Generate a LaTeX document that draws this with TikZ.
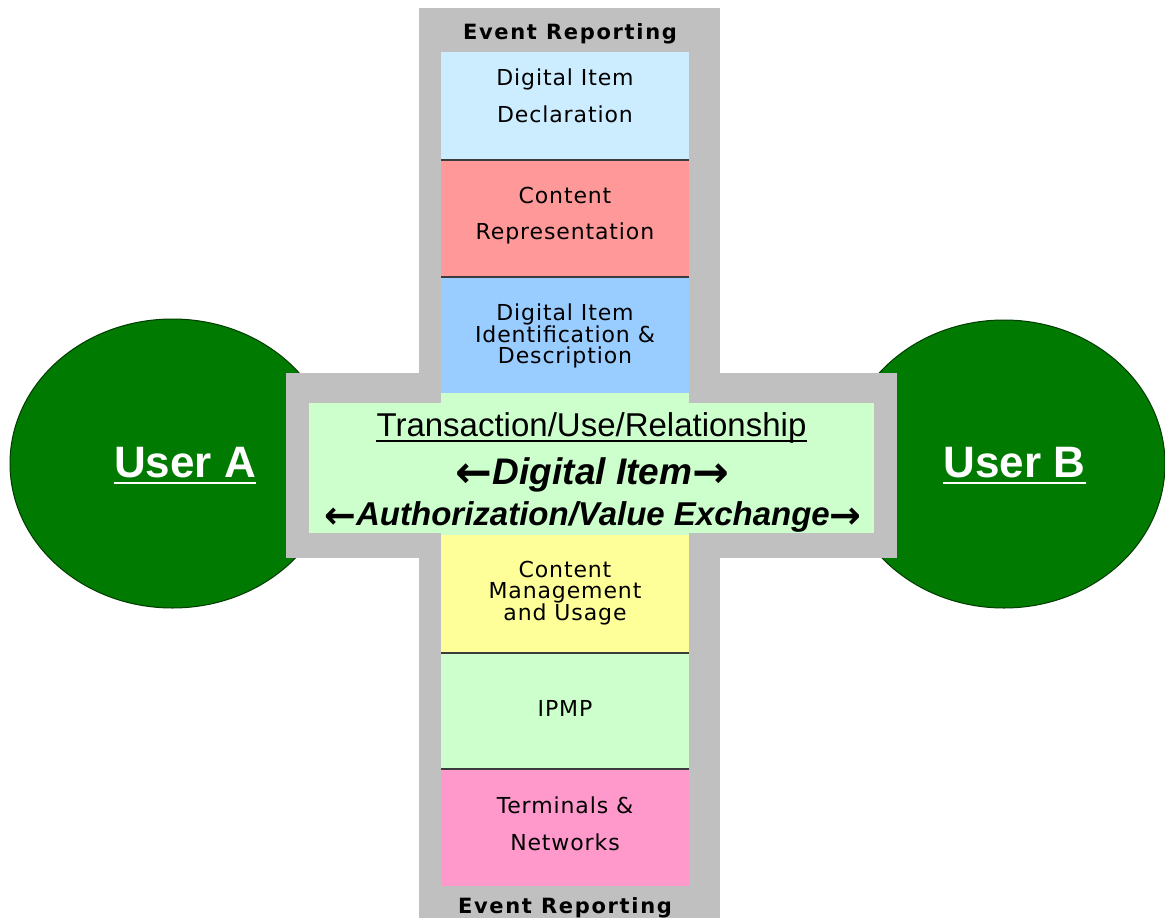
\documentclass[tikz,border=0pt]{standalone}
\usepackage{fontspec}
\usetikzlibrary{shapes.geometric}
\setmainfont{Liberation Sans}
\newfontfamily\boxfont[LetterSpace=4]{DejaVu Sans}
\newfontfamily\evfont[LetterSpace=8]{DejaVu Sans}
\newfontfamily\arfont{Liberation Sans}
\newfontfamily\arrowfont{DejaVu Sans}
\newcommand{\larr}[1]{\raisebox{-3pt}{\arrowfont\bfseries\fontsize{#1}{#1}\selectfont ←}}
\newcommand{\rarr}[1]{\raisebox{-3pt}{\arrowfont\bfseries\fontsize{#1}{#1}\selectfont →}}
\definecolor{crossgray}{RGB}{192,192,192}
\definecolor{didblue}{RGB}{204,236,255}
\definecolor{crred}{RGB}{255,153,153}
\definecolor{diiblue}{RGB}{153,204,255}
\definecolor{centergreen}{RGB}{204,255,204}
\definecolor{cmuyellow}{RGB}{255,255,153}
\definecolor{tnpink}{RGB}{255,153,204}
\definecolor{usergreen}{RGB}{0,122,0}
\definecolor{useredge}{RGB}{0,60,0}
\definecolor{sepline}{RGB}{60,60,60}
\begin{document}
\begin{tikzpicture}[x=1pt,y=-1pt,
  panel/.style={inner sep=0pt, outer sep=0pt, anchor=north west, draw=none},
  sep/.style={draw=sepline, line width=1.6pt},
  boxtext/.style={anchor=base, inner sep=0pt, font=\boxfont\fontsize{22}{24}\selectfont},
  evtext/.style={anchor=base, inner sep=0pt, font=\evfont\bfseries\fontsize{21}{24}\selectfont},
  user/.style={ellipse, fill=usergreen, draw=useredge, line width=1pt, inner sep=0pt},
  usertext/.style={anchor=base, inner sep=0pt, text=white, font=\arfont\bfseries\fontsize{44}{48}\selectfont},
  centertext/.style={anchor=base, inner sep=0pt}
]
\useasboundingbox[fill=white] (0,0) rectangle (1165,918);

% users
\node[user, minimum width=325pt, minimum height=289pt] (userA) at (172.5,463.5) {};
\node[user, minimum width=322pt, minimum height=288pt] (userB) at (1004,464) {};

% gray cross
\node[panel, fill=crossgray, minimum width=301pt, minimum height=915pt] (vbar) at (419,8) {};
\node[panel, fill=crossgray, minimum width=611pt, minimum height=185pt] (hbar) at (286,373) {};

% column panels
\node[panel, fill=didblue, minimum width=248pt, minimum height=108pt] (did) at (441,52) {};
\node[panel, fill=crred, minimum width=248pt, minimum height=117pt] (cr) at (441,160) {};
\node[panel, fill=diiblue, minimum width=248pt, minimum height=116pt] (dii) at (441,277) {};
\node[panel, fill=centergreen, minimum width=248pt, minimum height=142pt] (ccol) at (441,393) {};
\node[panel, fill=centergreen, minimum width=565pt, minimum height=130pt] (center) at (309,403) {};
\node[panel, fill=cmuyellow, minimum width=248pt, minimum height=118pt] (cmu) at (441,535) {};
\node[panel, fill=centergreen, minimum width=248pt, minimum height=116pt] (ipmp) at (441,653) {};
\node[panel, fill=tnpink, minimum width=248pt, minimum height=117pt] (tn) at (441,769) {};

% separators
\draw[sep] (did.south west) -- (did.south east);
\draw[sep] (cr.south west) -- (cr.south east);
\draw[sep] (cmu.south west) -- (cmu.south east);
\draw[sep] (ipmp.south west) -- (ipmp.south east);

% event reporting
\node[evtext] (evtop) at (570,39.5) {Event Reporting};
\node[evtext] (evbot) at (565,913) {Event Reporting};

% box texts
\node[boxtext] (did1) at (565,85) {Digital Item};
\node[boxtext] (did2) at (565,122) {Declaration};
\node[boxtext] (cr1) at (565,203) {Content};
\node[boxtext] (cr2) at (565,239) {Representation};
\node[boxtext] (dii1) at (565,320) {Digital Item};
\node[boxtext] (dii2) at (565,342) {Identification \&};
\node[boxtext] (dii3) at (565,363) {Description};
\node[boxtext] (cmu1) at (565,577) {Content};
\node[boxtext] (cmu2) at (565,598) {Management};
\node[boxtext] (cmu3) at (565,620) {and Usage};
\node[boxtext] (ipmp1) at (565,716) {IPMP};
\node[boxtext] (tn1) at (565,813) {Terminals \&};
\node[boxtext] (tn2) at (565,850) {Networks};

% center texts
\node[centertext, font=\arfont\fontsize{33}{36}\selectfont] (tr) at (591.5,436) {Transaction/Use/Relationship};
\draw[line width=2pt] ([yshift=-5pt]tr.base west) -- ([yshift=-5pt]tr.base east);
\node[centertext, font=\arfont\bfseries\fontsize{37}{40}\selectfont] (di) at (592.5,484) {\larr{44}\textit{Digital Item}\rarr{44}};
\node[centertext, font=\arfont\bfseries\fontsize{33}{36}\selectfont] (av) at (593,525) {\larr{38}\textit{Authorization/Value Exchange}\rarr{38}};

% user labels
\node[usertext] (userAlbl) at (185,477) {User A};
\draw[white, line width=2.5pt] ([yshift=-6pt]userAlbl.base west) -- ([yshift=-6pt]userAlbl.base east);
\node[usertext] (userBlbl) at (1014.5,477) {User B};
\draw[white, line width=2.5pt] ([yshift=-6pt]userBlbl.base west) -- ([yshift=-6pt]userBlbl.base east);
\end{tikzpicture}
\end{document}
